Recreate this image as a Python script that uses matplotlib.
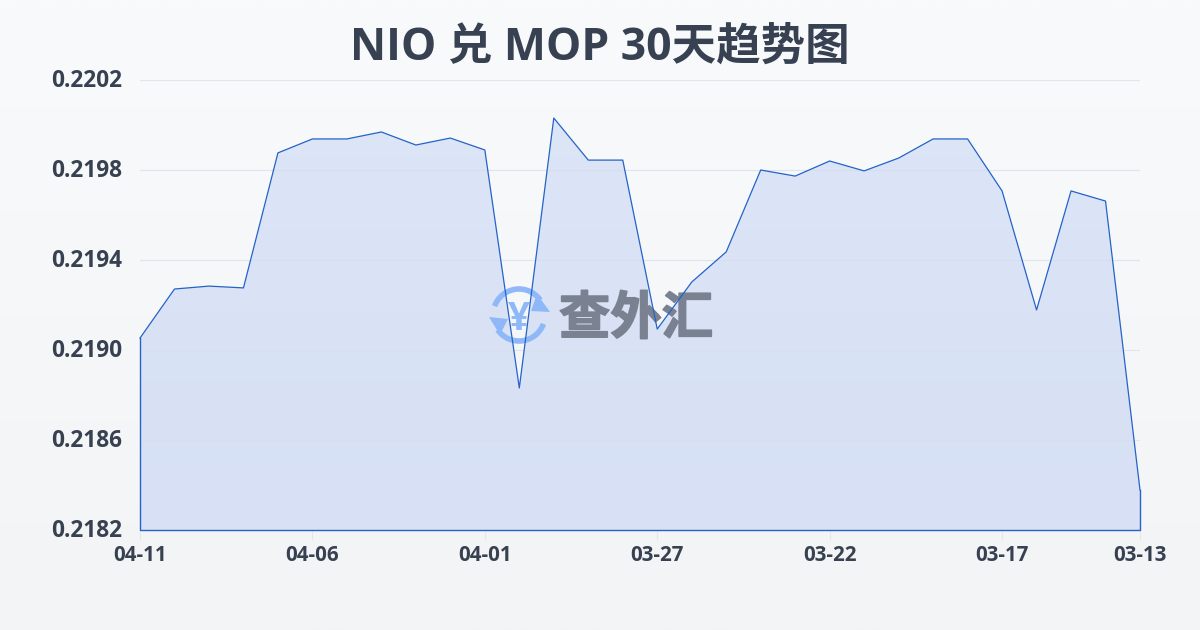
import numpy as np
import matplotlib
matplotlib.use("Agg")
import matplotlib.pyplot as plt
import matplotlib.patheffects as pe
from matplotlib.patches import Polygon, Arc
from matplotlib.transforms import ScaledTranslation

plt.rcParams['font.family'] = ['Open Sans', 'Noto Sans CJK SC', 'DejaVu Sans']

title = "NIO 兑 MOP 30天趋势图"
watermark = "查外汇"
dates = ["04-11", "04-06", "04-01", "03-27", "03-22", "03-17", "03-13"]
date_positions = [0, 5, 10, 15, 20, 25, 29]
y_ticks = [0.2182, 0.2186, 0.2190, 0.2194, 0.2198, 0.2202]
rates = [0.219053, 0.219271, 0.219284, 0.219276, 0.219876, 0.219938,
         0.219938, 0.219969, 0.219911, 0.219942, 0.219889, 0.218831,
         0.220031, 0.219844, 0.219844, 0.219093, 0.219302, 0.219436,
         0.219800, 0.219773, 0.219840, 0.219796, 0.219853, 0.219938,
         0.219938, 0.219707, 0.219178, 0.219707, 0.219662, 0.218378]

line_color = "#2563c8"
text_color = "#374151"

fig = plt.figure(figsize=(12, 6.3), dpi=100)

# page background gradient, full figure in pixel coords
bg = fig.add_axes([0, 0, 1, 1], zorder=0)
bg.set_xlim(0, 1200)
bg.set_ylim(630, 0)
bg.axis("off")
top = np.array([248, 250, 252]) / 255
bottom = np.array([243, 244, 246]) / 255
grad = np.linspace(0, 1, 256)[:, None, None]
bg.imshow(top + (bottom - top) * grad, extent=[0, 1200, 630, 0], aspect="auto")

ax = fig.add_axes([140 / 1200, 100 / 630, 1000 / 1200, 450 / 630], zorder=1)
ax.patch.set_alpha(0)
x = np.arange(len(rates))
ax.set_xlim(0, 29)
ax.set_ylim(0.2182, 0.2202)

# area fill with a slight vertical gradient
verts = list(zip(x, rates)) + [(29, 0.2182), (0, 0.2182)]
clip = Polygon(verts, closed=True, transform=ax.transData, fc="none", ec="none")
ax.add_patch(clip)
fill_top = np.array([220, 230, 247]) / 255
fill_bottom = np.array([215, 224, 244]) / 255
im = ax.imshow(fill_top + (fill_bottom - fill_top) * grad,
               extent=[0, 29, 0.2182, 0.2202], aspect="auto", zorder=2)
im.set_clip_path(clip)

ax.grid(axis="y", color="#d9dee6", linewidth=0.8, alpha=0.7, zorder=3)
ax.set_axisbelow(False)
for s in ax.spines.values():
    s.set_visible(False)
ax.set_xticks(date_positions)
ax.set_xticklabels(dates, fontsize=14.8, fontweight="bold", color=text_color)
ax.set_yticks(y_ticks)
ax.set_yticklabels(["%.4f" % v for v in y_ticks], fontsize=16.3, fontweight="bold", color=text_color)
ax.tick_params(axis="x", length=7, width=0.8, color="#e5e7eb", pad=4)
ax.tick_params(axis="y", length=0, pad=13)
up = ScaledTranslation(0, 2 / 100, fig.dpi_scale_trans)
for label in ax.get_yticklabels():
    label.set_transform(label.get_transform() + up)

# watermark logo and name
logo_blue = "#8fb8f8"
wm = fig.add_axes([0, 0, 1, 1], zorder=2)
wm.set_xlim(0, 1200)
wm.set_ylim(630, 0)
wm.axis("off")
for a, b in [(200, 325), (20, 145)]:
    wm.add_patch(Arc((519, 315), 52, 52, theta1=a, theta2=b, color=logo_blue, lw=4))
wm.add_patch(Polygon([(537, 294), (550, 312), (531, 311)], fc=logo_blue, ec="none"))
wm.add_patch(Polygon([(489, 317), (508, 319), (500, 335)], fc=logo_blue, ec="none"))
wm.text(519, 319, "¥", fontsize=28, fontweight="bold", color=logo_blue, ha="center", va="center")
wm.text(636, 321, watermark, fontsize=37, fontweight="bold", color="#7a8291", ha="center", va="center",
        path_effects=[pe.withStroke(linewidth=1.2, foreground="#7a8291")])

# outline goes on top of the watermark
top_ax = fig.add_axes(ax.get_position(), zorder=3)
top_ax.set_xlim(0, 29)
top_ax.set_ylim(0.2182, 0.2202)
top_ax.axis("off")
top_ax.plot(x, rates, color=line_color, linewidth=0.9, clip_on=False)
top_ax.plot([0, 0, 29, 29], [rates[0], 0.2182, 0.2182, rates[-1]],
            color=line_color, linewidth=1.0, clip_on=False)

fig.text(0.5, 1 - 48 / 630, title, fontsize=32, fontweight="bold", color=text_color, ha="center", va="center")

fig.savefig("out.png", dpi=100)
